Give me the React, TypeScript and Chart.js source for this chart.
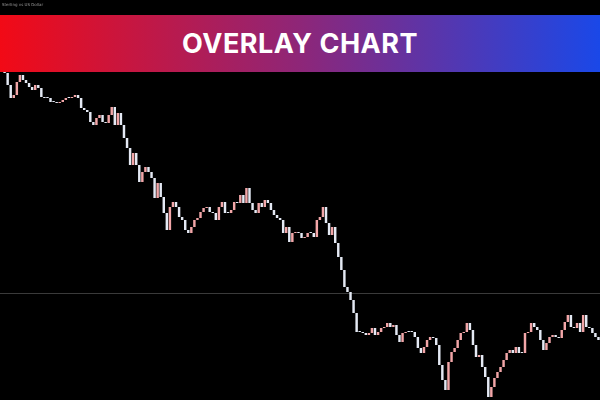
import React, { useEffect, useRef } from "react";
import { Chart, registerables } from "chart.js";

Chart.register(...registerables);

const TITLE = "OVERLAY CHART";
const SYMBOL_LABEL = "Sterling vs US Dollar";
const PRICE_MIN = 1.25;
const PRICE_MAX = 1.35;
const REFERENCE_LEVEL = 1.27675;

const CLOSES: number[] = [
  1.332, 1.33175, 1.32875, 1.3255, 1.32625, 1.3295, 1.33125, 1.33, 1.32925, 1.32825,
  1.3275, 1.32875, 1.328, 1.32575, 1.3255, 1.3255, 1.3245, 1.3245, 1.32425, 1.3245,
  1.325, 1.3255, 1.3255, 1.32575, 1.32625, 1.3255, 1.323, 1.3225, 1.322, 1.3195,
  1.31875, 1.3205, 1.32125, 1.3195, 1.31925, 1.32125, 1.32325, 1.31875, 1.32175, 1.31875,
  1.3155, 1.313, 1.30875, 1.31175, 1.30875, 1.3045, 1.307, 1.30825, 1.307, 1.3055,
  1.3005, 1.30425, 1.30075, 1.29675, 1.2925, 1.29825, 1.2995, 1.29825, 1.29575, 1.295,
  1.2925, 1.29175, 1.29325, 1.295, 1.2955, 1.297, 1.298, 1.29825, 1.297, 1.29675,
  1.295, 1.29825, 1.2995, 1.29675, 1.29675, 1.2975, 1.2995, 1.29925, 1.30125, 1.29925,
  1.303, 1.29925, 1.2975, 1.29675, 1.29925, 1.29825, 1.3, 1.29925, 1.2975, 1.29625,
  1.2955, 1.295, 1.29175, 1.29325, 1.2895, 1.29175, 1.292, 1.29175, 1.2905, 1.29075,
  1.29175, 1.29175, 1.29075, 1.295, 1.29575, 1.29825, 1.29425, 1.29125, 1.29325, 1.28925,
  1.28575, 1.2825, 1.27825, 1.277, 1.275, 1.27175, 1.267, 1.267, 1.26675, 1.26625,
  1.26675, 1.268, 1.26625, 1.267, 1.268, 1.26825, 1.26925, 1.26825, 1.26875, 1.26625,
  1.2645, 1.26675, 1.267, 1.267, 1.267, 1.26575, 1.263, 1.26175, 1.26325, 1.265,
  1.26575, 1.2655, 1.26375, 1.25875, 1.255, 1.2525, 1.2595, 1.262, 1.263, 1.265,
  1.26675, 1.267, 1.26925, 1.2675, 1.26375, 1.26075, 1.26125, 1.25825, 1.25575, 1.25075,
  1.25325, 1.2555, 1.257, 1.25825, 1.26, 1.26175, 1.2625, 1.26175, 1.26325, 1.26175,
  1.26175, 1.26675, 1.267, 1.26925, 1.26825, 1.2675, 1.265, 1.2625, 1.26425, 1.26575,
  1.26625, 1.26575, 1.2655, 1.2675, 1.2695, 1.27125, 1.26825, 1.268, 1.26925, 1.267,
  1.27125, 1.26825, 1.268, 1.26675, 1.26575, 1.265,
];

const UP_COLOR = "#f2a6a8";
const DOWN_COLOR = "#e4e9f4";

export default function App() {
  const canvasRef = useRef<HTMLCanvasElement | null>(null);

  useEffect(() => {
    const canvas = canvasRef.current;
    if (!canvas) return;
    const labels = CLOSES.map((_, i) => String(i + 1));
    const bodies = CLOSES.map((c, i) => [i === 0 ? c : CLOSES[i - 1], c]);
    const colors = CLOSES.map((c, i) =>
      i > 0 && c > CLOSES[i - 1] ? UP_COLOR : DOWN_COLOR
    );

    const levelLine = {
      id: "levelLine",
      beforeDatasetsDraw(chart: any) {
        const { ctx, chartArea, scales } = chart;
        const y = Math.round(scales.y.getPixelForValue(REFERENCE_LEVEL)) + 0.5;
        ctx.save();
        ctx.strokeStyle = "#3a3a3a";
        ctx.lineWidth = 1;
        ctx.beginPath();
        ctx.moveTo(chartArea.left, y);
        ctx.lineTo(chartArea.right, y);
        ctx.stroke();
        ctx.restore();
      },
    };

    const chart = new Chart(canvas, {
      type: "bar",
      data: {
        labels,
        datasets: [
          {
            data: bodies as any,
            backgroundColor: colors,
            borderWidth: 0,
            barPercentage: 0.8,
            categoryPercentage: 1,
            minBarLength: 1,
          },
        ],
      },
      options: {
        animation: false,
        responsive: false,
        maintainAspectRatio: false,
        layout: { padding: 0 },
        plugins: {
          legend: { display: false },
          tooltip: { enabled: false },
        },
        scales: {
          x: { display: false, offset: true, grid: { display: false } },
          y: { display: false, min: PRICE_MIN, max: PRICE_MAX },
        },
      },
      plugins: [levelLine],
    });
    return () => chart.destroy();
  }, []);

  return (
    <div
      style={{
        position: "absolute",
        left: 0,
        top: 0,
        width: 600,
        height: 400,
        background: "#000",
        overflow: "hidden",
      }}
    >
      <canvas
        ref={canvasRef}
        width={600}
        height={400}
        style={{ position: "absolute", left: 0, top: 0, width: 600, height: 400 }}
      />
      <div
        style={{
          position: "absolute",
          left: 2,
          top: 2,
          fontFamily: "'DejaVu Sans', sans-serif",
          fontSize: 4,
          color: "#9a9a9a",
          whiteSpace: "nowrap",
        }}
      >
        {SYMBOL_LABEL}
      </div>
      <div
        style={{
          position: "absolute",
          left: 0,
          top: 15,
          width: 600,
          height: 57,
          background: "linear-gradient(90deg, #f20a16 0%, #8e2678 50%, #1a48e8 100%)",
          display: "flex",
          alignItems: "center",
          justifyContent: "center",
          color: "#fff",
          fontFamily: "Inter, 'Open Sans', sans-serif",
          fontWeight: 700,
          fontSize: 27,
          letterSpacing: 0.5,
        }}
      >
        {TITLE}
      </div>
    </div>
  );
}
